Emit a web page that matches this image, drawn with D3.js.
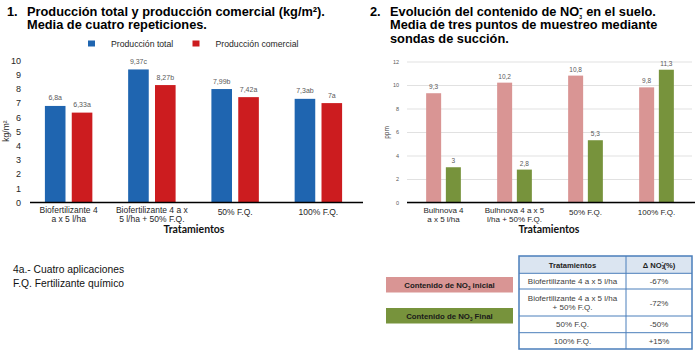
<!DOCTYPE html>
<html>
<head>
<meta charset="utf-8">
<script src="https://cdn.jsdelivr.net/npm/d3@7/dist/d3.min.js"></script>
<style>
	body { margin: 0; background: #fff; }
	svg { display: block; font-family: 'Liberation Sans', Arial, sans-serif; }
</style>
</head>
<body>
<script>

// chart 1 data
var categorias1 = [['Biofertilizante 4', 'a x 5 l/ha'], ['Biofertilizante 4 a x', '5 l/ha + 50% F.Q.'], ['50% F.Q.'], ['100% F.Q.']]
var produccionTotal = [6.8, 9.37, 7.99, 7.3]
var produccionComercial = [6.33, 8.27, 7.42, 7]
var etiquetasTotal = ['6,8a', '9,37c', '7,99b', '7,3ab']
var etiquetasComercial = ['6,33a', '8,27b', '7,42a', '7a']
var ticks1 = [0, 1, 2, 3, 4, 5, 6, 7, 8, 9, 10]
var series1 = ['Producción total', 'Producción comercial']

// chart 2 data
var categorias2 = [['Bulhnova 4', 'a x 5 l/ha'], ['Bulhnova 4 a x 5', 'l/ha + 50% F.Q.'], ['50% F.Q.'], ['100% F.Q.']]
var no3Inicial = [9.3, 10.2, 10.8, 9.8]
var no3Final = [3, 2.8, 5.3, 11.3]
var etiquetasInicial = ['9,3', '10,2', '10,8', '9,8']
var etiquetasFinal = ['3', '2,8', '5,3', '11,3']
var ticks2 = [0, 2, 4, 6, 8, 10, 12]

// table data
var tablaTratamientos = [['Biofertilizante 4 a x 5 l/ha'], ['Biofertilizante 4 a x 5 l/ha', '+ 50% F.Q.'], ['50% F.Q.'], ['100% F.Q.']]
var tablaDelta = ['-67%', '-72%', '-50%', '+15%']

var notas = ['4a.- Cuatro aplicaciones', 'F.Q. Fertilizante químico']


var svg = d3.select('body').append('svg')
	.attr('width', 699)
	.attr('height', 362)

svg.append('rect').attr('width', 699).attr('height', 362).attr('fill', '#fff')

/**
 * Draw a grouped bar chart (two series)
 *
 * @param {object} c config
 */
function drawBars(c) {

	var n = c.categorias.length
		, x = d3.scaleBand().domain(d3.range(n)).range(c.xRange)
			.paddingInner(c.pad).paddingOuter(c.pad / 2)
		, x1 = d3.scaleBand().domain([0, 1]).range([0, x.bandwidth()]).paddingInner(c.innerPad)
		, y = d3.scaleLinear().domain([0, c.ticks[c.ticks.length - 1]]).range(c.yRange)
		, g = svg.append('g')

	// y axis
	var axis = g.append('g')
		.attr('transform', 'translate(' + c.axisX + ',0)')
		.call(d3.axisLeft(y).tickValues(c.ticks).tickSize(c.grid ? -(c.gridEnd - c.axisX) : 0).tickPadding(c.tickPad))
	axis.select('.domain').remove()
	axis.selectAll('line').attr('stroke', '#d9d9d9').attr('stroke-width', 0.8)
	axis.selectAll('text')
		.attr('font-family', "'Liberation Sans', Arial, sans-serif")
		.attr('font-size', c.tickSize)
		.attr('fill', c.tickColor)

	// bars
	var series = [c.a, c.b]
	series.forEach(function(values, s) {
		g.selectAll('.bar' + s).data(values)
		  .enter()
			.append('rect')
			.attr('x', function(d, i) { return x(i) + x1(s) })
			.attr('y', function(d) { return y(d) })
			.attr('width', x1.bandwidth())
			.attr('height', function(d) { return y(0) - y(d) })
			.attr('fill', c.colors[s])

		g.selectAll('.val' + s).data(values)
		  .enter()
			.append('text')
			.attr('x', function(d, i) { return x(i) + x1(s) + x1.bandwidth() / 2 })
			.attr('y', function(d) { return y(d) - c.valOffset })
			.attr('text-anchor', 'middle')
			.attr('font-size', c.valSize)
			.attr('fill', '#595959')
			.text(function(d, i) { return c.etiquetas[s][i] })
	})

	// base line
	g.append('line')
		.attr('x1', c.baseLine[0]).attr('x2', c.baseLine[1])
		.attr('y1', y(0)).attr('y2', y(0))
		.attr('stroke', '#000').attr('stroke-width', 1.6)

	// category labels
	c.categorias.forEach(function(lines, i) {
		var t = g.append('text')
			.attr('text-anchor', 'middle')
			.attr('font-size', c.catSize)
			.attr('fill', '#262626')
		lines.forEach(function(l, k) {
			t.append('tspan')
				.attr('x', x(i) + x.bandwidth() / 2)
				.attr('y', lines.length == 1 ? y(0) + 12.5 : y(0) + 10 + k * 9.5)
				.text(l)
		})
	})

	// x title
	g.append('text')
		.attr('x', c.titleX)
		.attr('y', y(0) + 30)
		.attr('text-anchor', 'middle')
		.attr('font-family', 'Lato, sans-serif')
		.attr('font-weight', 'bold')
		.attr('font-size', 10.5)
		.attr('fill', '#111')
		.text('Tratamientos')

	return g
}

// chart 1
drawBars({
	categorias: categorias1
	, a: produccionTotal
	, b: produccionComercial
	, etiquetas: [etiquetasTotal, etiquetasComercial]
	, colors: ['#1f65b0', '#cc1c1f']
	, ticks: ticks1
	, xRange: [27, 360]
	, pad: 0.43
	, innerPad: 0.233
	, yRange: [202.5, 60.5]
	, axisX: 27
	, grid: false
	, tickPad: 6
	, tickSize: 9
	, tickColor: '#262626'
	, valSize: 7
	, valOffset: 5.5
	, catSize: 8.5
	, baseLine: [30, 363]
	, titleX: 194
})

// chart 2
drawBars({
	categorias: categorias2
	, a: no3Inicial
	, b: no3Final
	, etiquetas: [etiquetasInicial, etiquetasFinal]
	, colors: ['#d99594', '#77933c']
	, ticks: ticks2
	, xRange: [408, 692]
	, pad: 0.511
	, innerPad: 0.239
	, yRange: [202.5, 61.5]
	, axisX: 407
	, gridEnd: 692
	, grid: true
	, tickPad: 8
	, tickSize: 5.5
	, tickColor: '#595959'
	, valSize: 6.5
	, valOffset: 4
	, catSize: 8
	, baseLine: [407, 695]
	, titleX: 549
})

// y axis titles
svg.append('text')
	.attr('transform', 'translate(9,131) rotate(-90)')
	.attr('text-anchor', 'middle')
	.attr('font-size', 8.5)
	.attr('fill', '#262626')
	.text('kg/m²')

svg.append('text')
	.attr('transform', 'translate(389,132.5) rotate(-90)')
	.attr('text-anchor', 'middle')
	.attr('font-size', 6.5)
	.attr('fill', '#404040')
	.text('ppm')

// legend chart 1
var legend1 = [{x: 88, color: '#1f65b0'}, {x: 192.5, color: '#cc1c1f'}]
legend1.forEach(function(l, i) {
	svg.append('rect').attr('x', l.x).attr('y', 40.5).attr('width', 7).attr('height', 6).attr('fill', l.color)
	svg.append('text')
		.attr('x', l.x + 23)
		.attr('y', 46.5)
		.attr('font-size', 8.7)
		.attr('fill', '#262626')
		.text(series1[i])
})

// titles
function title(x, num, lines) {
	svg.append('text').attr('x', x).attr('y', 15.5)
		.attr('font-weight', 'bold').attr('font-size', 12.8).attr('fill', '#000')
		.text(num)
	lines.forEach(function(l, k) {
		var t = svg.append('text').attr('x', x + 20).attr('y', 15.5 + k * 13.6)
			.attr('font-weight', 'bold').attr('font-size', 12.8).attr('fill', '#000')
		if (typeof l == 'string') t.text(l)
		else l(t)
	})
}

title(7, '1.', ['Producción total y producción comercial (kg/m²).', 'Media de cuatro repeticiones.'])
title(370, '2.', [
	function(t) {
		t.append('tspan').text('Evolución del contenido de NO')
		t.append('tspan').attr('font-size', 5).attr('dy', 3).text('3')
		t.append('tspan').attr('font-size', 11).attr('dx', -3).attr('dy', -8).text('-')
		t.append('tspan').attr('dy', 5).text(' en el suelo.')
	}
	, 'Media de tres puntos de muestreo mediante'
	, 'sondas de succión.'
])

// notes
notas.forEach(function(n, i) {
	svg.append('text').attr('x', 13).attr('y', 273 + i * 14)
		.attr('font-size', 10.3).attr('fill', '#111')
		.text(n)
})

// legend boxes chart 2
var legend2 = [{y: 277, color: '#d99594', txt: ' inicial'}, {y: 308, color: '#77933c', txt: ' Final'}]
legend2.forEach(function(l) {
	svg.append('rect').attr('x', 386).attr('y', l.y).attr('width', 127).attr('height', 15.5).attr('fill', l.color)
	var t = svg.append('text').attr('x', 449.5).attr('y', l.y + 10.5)
		.attr('text-anchor', 'middle').attr('font-weight', 'bold').attr('font-size', 7.8).attr('fill', '#1a1a1a')
	t.append('tspan').text('Contenido de NO')
	t.append('tspan').attr('font-size', 4.5).attr('dy', 2).text('3')
	t.append('tspan').attr('dy', -2).text(l.txt)
})

// table
var rowY = [256, 273.3, 289, 316, 332.7, 349]
	, colX = [519, 626, 692]
	, border = '#4a7ebb'
	, tbl = svg.append('g')

tbl.append('rect').attr('x', colX[0]).attr('y', rowY[0]).attr('width', colX[2] - colX[0]).attr('height', rowY[1] - rowY[0]).attr('fill', '#dbe5f1')
rowY.slice(1, -1).forEach(function(yy) {
	tbl.append('line').attr('x1', colX[0]).attr('x2', colX[2]).attr('y1', yy).attr('y2', yy).attr('stroke', border).attr('stroke-width', 1)
})
tbl.append('line').attr('x1', colX[1]).attr('x2', colX[1]).attr('y1', rowY[0]).attr('y2', rowY[5]).attr('stroke', border).attr('stroke-width', 1)
tbl.append('rect').attr('x', colX[0]).attr('y', rowY[0]).attr('width', colX[2] - colX[0]).attr('height', rowY[5] - rowY[0])
	.attr('fill', 'none').attr('stroke', border).attr('stroke-width', 1.5)

tbl.append('text').attr('x', (colX[0] + colX[1]) / 2).attr('y', 267.5)
	.attr('text-anchor', 'middle').attr('font-weight', 'bold').attr('font-size', 7.6).attr('fill', '#222')
	.text('Tratamientos')
var h2 = tbl.append('text').attr('x', (colX[1] + colX[2]) / 2).attr('y', 267.5)
	.attr('text-anchor', 'middle').attr('font-weight', 'bold').attr('font-size', 7.6).attr('fill', '#222')
h2.append('tspan').text('Δ NO')
h2.append('tspan').attr('font-size', 4.5).attr('dy', 1.5).text('3')
h2.append('tspan').attr('font-size', 5).attr('dx', -2.5).attr('dy', -5).text('-')
h2.append('tspan').attr('dy', 3.5).text('(%)')

tablaTratamientos.forEach(function(lines, i) {
	var mid = (rowY[i + 1] + rowY[i + 2]) / 2
	lines.forEach(function(l, k) {
		tbl.append('text').attr('x', (colX[0] + colX[1]) / 2)
			.attr('y', mid + 3 + (k - (lines.length - 1) / 2) * 9.5)
			.attr('text-anchor', 'middle').attr('font-size', 8).attr('fill', '#404040')
			.text(l)
	})
	tbl.append('text').attr('x', (colX[1] + colX[2]) / 2).attr('y', mid + 3)
		.attr('text-anchor', 'middle').attr('font-size', 8).attr('fill', '#404040')
		.text(tablaDelta[i])
})

</script>
</body>
</html>
